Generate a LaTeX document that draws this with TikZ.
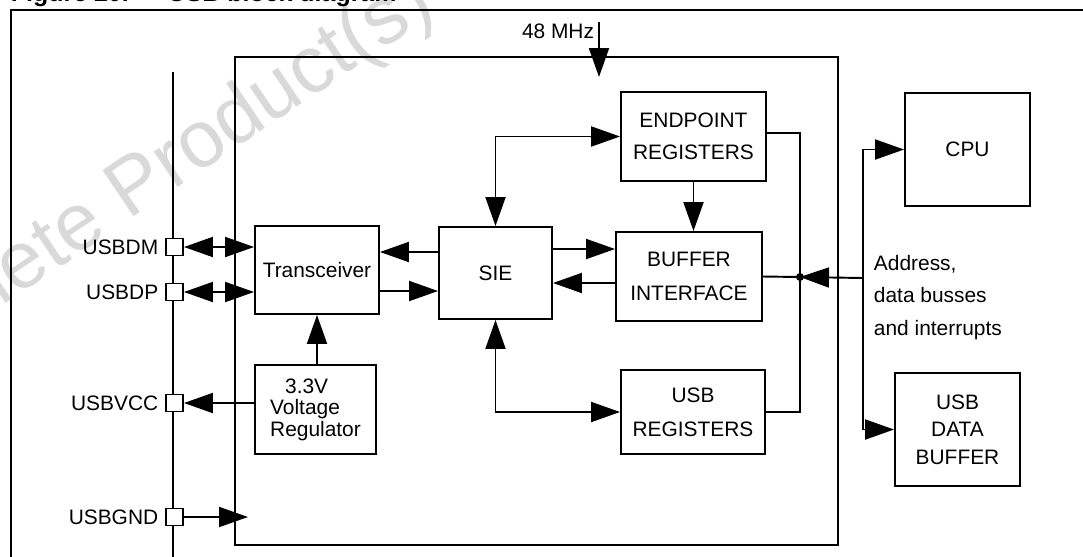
\documentclass[tikz,border=0pt]{standalone}
\usepackage{fontspec}
\setmainfont{Liberation Sans}
\usetikzlibrary{arrows.meta,calc}

\begin{document}
\begin{tikzpicture}[
  x=0.02cm, y=-0.02cm, line width=1.1pt,
  txt/.style={font=\fontsize{11.9}{#1}\selectfont},
  txt/.default=14pt,
  blk/.style={draw, inner sep=0pt, align=center, txt},
  pad/.style={draw, fill=white, inner sep=0pt, minimum size=0.34cm},
  arr/.style={-{Triangle[length=0.58cm, width=0.4cm]}},
  dbl/.style={{Triangle[length=0.58cm, width=0.4cm]}-{Triangle[length=0.58cm, width=0.4cm]}}
]
  \useasboundingbox (0,0) rectangle (1083,556);
  \clip (0,0) rectangle (1083,556);

  % watermark and caption
  \node[text=black!15, font=\fontsize{46}{46}\selectfont, rotate=34] (wmark) at (128,196) {Obsolete Product(s)};
  \node[anchor=base west, inner sep=0pt, font=\fontsize{14.2}{17}\selectfont\bfseries] (title) at (10,1) {Figure 20.\hspace{0.78cm}USB block diagram};

  % outer frame and usb bus
  \coordinate (fbl) at (11,600);
  \coordinate (ftl) at (11,10);
  \coordinate (ftr) at (1100,10);
  \draw (fbl) -- (ftl) -- (ftr);
  \coordinate (bustop) at (173,72);
  \coordinate (busbot) at (173,600);
  \draw (bustop) -- (busbot);

  % chip outline
  \node[draw, inner sep=0pt, minimum width=12.06cm, minimum height=9.76cm] (chip) at (536.5,301) {};

  % blocks
  \node[blk, minimum width=2.48cm, minimum height=1.76cm] (xcvr) at (317,270) {Transceiver};
  \node[blk, txt=12.2pt, align=left, minimum width=2.42cm, minimum height=1.78cm] (vreg) at (315.5,409.5) {\hspace{0.3cm}3.3V\\Voltage\\Regulator};
  \node[blk, minimum width=2.26cm, minimum height=1.84cm] (sie) at (495.5,273) {SIE};
  \node[blk, txt=18.1pt, minimum width=2.9cm, minimum height=1.78cm] (epreg) at (693.5,136.5) {ENDPOINT\\REGISTERS};
  \node[blk, txt=19.8pt, minimum width=2.92cm, minimum height=1.78cm] (bufif) at (689,276.5) {BUFFER\\INTERFACE};
  \node[blk, txt=19.3pt, minimum width=2.88cm, minimum height=1.68cm] (usbreg) at (693,412) {USB\\REGISTERS};
  \node[blk, minimum width=2.5cm, minimum height=2.26cm] (cpu) at (967.5,149.5) {CPU};
  \node[blk, txt=15.6pt, minimum width=2.5cm, minimum height=2.26cm] (dbuf) at (957.5,429.5) {USB\\DATA\\BUFFER};

  % pads
  \foreach \pname/\py/\ptxt in {pdm/247/USBDM, pdp/292/USBDP, pvcc/403/USBVCC, pgnd/517/USBGND}
    \node[pad, label={[txt]left:\ptxt}] (\pname) at (174.5,\py) {};

  \draw[dbl] (pdm.east) -- (pdm -| xcvr.west);
  \draw[dbl] (pdp.east) -- (pdp -| xcvr.west);
  \draw[arr] (vreg.west |- pvcc) -- (pvcc.east);
  \coordinate (gndin) at (248,517);
  \draw[arr] (pgnd.east) -- (gndin);
  \draw[arr] (vreg.north -| xcvr.south) -- (xcvr.south);

  % clock
  \coordinate (clk) at (599,22);
  \coordinate (clkin) at (599,77);
  \draw[arr] (clk) -- (clkin);
  \node[anchor=east, inner sep=0pt, txt] (clklbl) at (595,31.5) {48 MHz};

  % sie links
  \draw[arr] (sie.west |- 0,252) -- (xcvr.east |- 0,252);
  \draw[arr] (xcvr.east |- 0,291) -- (sie.west |- 0,291);
  \draw[arr] (sie.east |- 0,249) -- (bufif.west |- 0,249);
  \draw[arr] (bufif.west |- 0,283) -- (sie.east |- 0,283);
  \draw[dbl] (epreg.west) -| (sie.north);
  \draw[dbl] (usbreg.west) -| (sie.south);
  \draw[arr] (epreg.south) -- (epreg.south |- bufif.north);

  % internal bus
  \coordinate (jn) at (800,277);
  \draw (epreg.east |- 0,133) -| (jn) |- (usbreg.east);
  \draw (bufif.east) -- (jn);

  % system bus
  \coordinate (xbus) at (863,278);
  \draw[arr] (xbus) -- (jn);
  \draw[arr] (xbus) |- (cpu.west);
  \draw[arr] (xbus) |- (dbuf.west);
  \fill (jn) circle (0.08cm);
  \node[anchor=west, align=left, inner sep=0pt, txt=18.4pt] (buslbl) at (873,297.5) {Address,\\data busses\\and interrupts};
\end{tikzpicture}
\end{document}
